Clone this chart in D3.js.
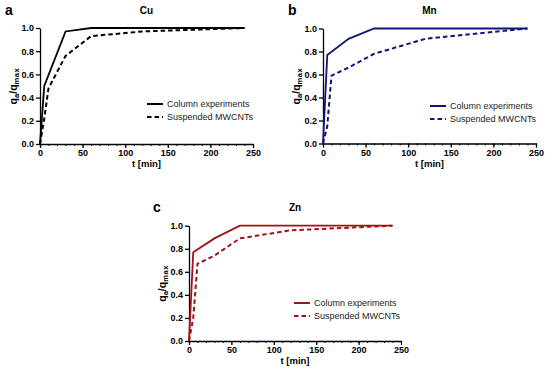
<html>
<head>
<style>
  body { margin: 0; background: #fff; }
  text { font-family: 'Liberation Sans', Arial, sans-serif; }
</style>
</head>
<body>
<div id='chart'></div>
<script src='https://d3js.org/d3.v7.min.js'></script>
<script>
// time points (min)
var columnTime = [0, 5, 30, 60, 120, 240];
var suspendedTime = [0, 5, 10, 30, 60, 120, 240];

// q_a / q_max
var cuColumn = [0, 0.5, 0.97, 1.0, 1.0, 1.0];
var cuSuspended = [0, 0.22, 0.48, 0.76, 0.93, 0.97, 1.0];
var mnColumn = [0, 0.77, 0.91, 1.0, 1.0, 1.0];
var mnSuspended = [0, 0.15, 0.59, 0.66, 0.78, 0.91, 1.0];
var znColumn = [0, 0.77, 0.89, 1.0, 1.0, 1.0];
var znSuspended = [0, 0.2, 0.67, 0.74, 0.89, 0.96, 1.0];

var xTicks = [0, 50, 100, 150, 200, 250];
var yTicks = [0, 0.2, 0.4, 0.6, 0.8, 1.0];
var legendLabels = ['Column experiments', 'Suspended MWCNTs'];

var svg = d3.select('#chart').append('svg')
    .attr('width', 550)
    .attr('height', 374);

function drawPanel(p) {
  var x = d3.scaleLinear().domain([0, 250]).range([p.left, p.right]);
  var y = d3.scaleLinear().domain([0, 1]).range([p.bottom, p.top]);
  var g = svg.append('g');
  var mid = (p.left + p.right) / 2;

  // minor x ticks
  g.append('g')
    .attr('transform', 'translate(0,' + p.bottom + ')')
    .call(d3.axisBottom(x).tickValues(d3.range(0, 251, 10)).tickSize(2).tickFormat(''))
    .call(function(a){ a.select('.domain').remove(); a.selectAll('line').attr('stroke', '#000'); });

  var xa = g.append('g')
    .attr('transform', 'translate(0,' + p.bottom + ')')
    .call(d3.axisBottom(x).tickValues(xTicks).tickSize(4).tickSizeOuter(0).tickFormat(d3.format('d')));
  var ya = g.append('g')
    .attr('transform', 'translate(' + p.left + ',0)')
    .call(d3.axisLeft(y).tickValues(yTicks).tickSize(4).tickSizeOuter(0).tickFormat(d3.format('.1f')));
  [xa, ya].forEach(function(a){
    a.select('.domain').attr('stroke', '#000').attr('stroke-width', 1.3);
    a.selectAll('line').attr('stroke', '#000').attr('stroke-width', 1.3);
    a.selectAll('text').attr('font-size', 9).attr('font-weight', 'bold')
      .attr('font-family', "'Liberation Sans', Arial, sans-serif").attr('fill', '#000');
  });
  xa.selectAll('text').attr('y', 6);
  ya.selectAll('text').attr('x', -6);

  var line = d3.line().x(function(d){ return x(d[0]); }).y(function(d){ return y(d[1]); });
  var colData = d3.zip(columnTime, p.column);
  var susData = d3.zip(suspendedTime, p.suspended);

  g.append('path').datum(susData).attr('d', line)
    .attr('fill', 'none').attr('stroke', p.color).attr('stroke-width', 2)
    .attr('stroke-dasharray', '4.5,3');
  g.append('path').datum(colData).attr('d', line)
    .attr('fill', 'none').attr('stroke', p.color).attr('stroke-width', 1.8);

  // titles
  g.append('text').attr('x', p.letterX).attr('y', p.titleY + 1)
    .attr('font-size', 14).attr('font-weight', 'bold').text(p.letter);
  g.append('text').attr('x', mid).attr('y', p.titleY)
    .attr('text-anchor', 'middle').attr('font-size', 10).attr('font-weight', 'bold').text(p.title);

  // axis labels
  g.append('text').attr('x', mid).attr('y', p.bottom + 23)
    .attr('text-anchor', 'middle').attr('font-size', 9.5).attr('font-weight', 'bold').text('t [min]');
  var yl = g.append('text')
    .attr('transform', 'translate(' + (p.left - 23) + ',' + ((p.top + p.bottom) / 2) + ') rotate(-90)')
    .attr('text-anchor', 'middle').attr('font-size', 10.5).attr('font-weight', 'bold');
  yl.append('tspan').text('q');
  yl.append('tspan').attr('font-size', 7.5).attr('dy', 2).text('a');
  yl.append('tspan').attr('dy', -2).text('/q');
  yl.append('tspan').attr('font-size', 7.5).attr('dy', 2).attr('letter-spacing', 0.6).text('max');

  // legend
  legendLabels.forEach(function(lbl, i){
    var ly = p.legendY + i * 13;
    g.append('line').attr('x1', p.legendX).attr('x2', p.legendX + 16)
      .attr('y1', ly).attr('y2', ly)
      .attr('stroke', p.color).attr('stroke-width', 2)
      .attr('stroke-dasharray', i ? '4.5,3' : null);
    g.append('text').attr('x', p.legendX + 20).attr('y', ly + 3.2)
      .attr('font-size', 9).attr('fill', '#222').text(lbl);
  });
}

drawPanel({ left: 40, right: 253, top: 28, bottom: 144, color: '#000',
  column: cuColumn, suspended: cuSuspended, letter: 'a', letterX: 5, title: 'Cu', titleY: 14,
  legendX: 147, legendY: 104 });
drawPanel({ left: 323, right: 536, top: 28.5, bottom: 143.5, color: '#10147e',
  column: mnColumn, suspended: mnSuspended, letter: 'b', letterX: 288, title: 'Mn', titleY: 14,
  legendX: 430, legendY: 106 });
drawPanel({ left: 189, right: 401, top: 225.7, bottom: 341, color: '#a01218',
  column: znColumn, suspended: znSuspended, letter: 'c', letterX: 153, title: 'Zn', titleY: 211,
  legendX: 294, legendY: 303 });
</script>
</body>
</html>
